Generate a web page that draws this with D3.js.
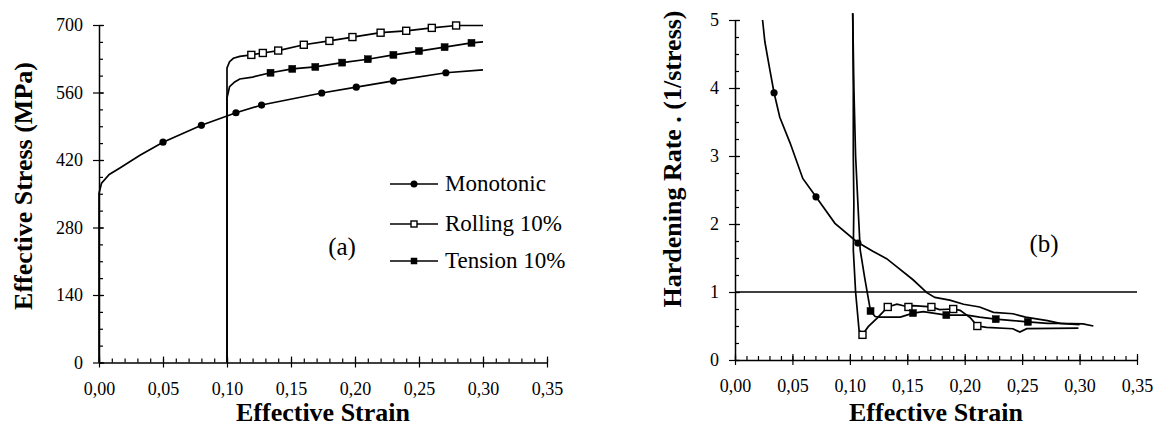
<!DOCTYPE html>
<html>
<head>
<meta charset="utf-8">
<script src="https://cdn.jsdelivr.net/npm/d3@7"></script>
<style>
  body { margin: 0; background: #fff; }
</style>
</head>
<body>
<div id="chart"></div>
<script>
// 数据：应力-应变 (a)
const stressMonotonic = [[0,0],[0,351],[0.002,372],[0.008,390],[0.016,403],[0.032,430],[0.05,457],[0.08,492],[0.107,518],[0.127,534],[0.174,559],[0.201,571],[0.23,584],[0.271,601],[0.30,607]];
const stressMonotonicMarks = [[0.05,457],[0.08,492],[0.107,518],[0.127,534],[0.174,559],[0.201,571],[0.23,584],[0.271,601]];
const stressRolling = [[0.10,0],[0.10,611],[0.102,624],[0.105,631],[0.11,635],[0.119,638],[0.128,642],[0.14,647],[0.16,659],[0.18,667],[0.198,675],[0.22,684],[0.24,688],[0.26,694],[0.279,699],[0.30,699]];
const stressRollingMarks = [[0.119,638],[0.128,642],[0.14,647],[0.16,659],[0.18,667],[0.198,675],[0.22,684],[0.24,688],[0.26,694],[0.279,699]];
const stressTension = [[0.10,0],[0.10,549],[0.102,572],[0.106,582],[0.11,588],[0.12,592],[0.134,601],[0.151,609],[0.169,613],[0.19,622],[0.21,629],[0.23,638],[0.25,646],[0.27,654],[0.291,663],[0.30,665]];
const stressTensionMarks = [[0.134,601],[0.151,609],[0.169,613],[0.19,622],[0.21,629],[0.23,638],[0.25,646],[0.27,654],[0.291,663]];

// 数据：硬化率 (b)
const rateMonotonic = [[0.024,5.0],[0.026,4.68],[0.030,4.3],[0.034,3.93],[0.039,3.57],[0.048,3.19],[0.059,2.67],[0.0705,2.40],[0.087,2.01],[0.106,1.74],[0.12,1.6],[0.132,1.49],[0.141,1.37],[0.155,1.18],[0.167,0.99],[0.174,0.92],[0.187,0.88],[0.199,0.82],[0.213,0.78],[0.225,0.70],[0.242,0.68],[0.253,0.63],[0.272,0.58],[0.283,0.54],[0.303,0.53],[0.312,0.50]];
const rateMonotonicMarks = [[0.034,3.93],[0.0705,2.40],[0.107,1.72]];
const rateRolling = [[0.1025,5.1],[0.103,4],[0.103,3],[0.1035,2.3],[0.103,1.62],[0.105,1.0],[0.108,0.44],[0.111,0.37],[0.116,0.49],[0.124,0.62],[0.133,0.78],[0.141,0.82],[0.151,0.78],[0.155,0.80],[0.171,0.78],[0.178,0.74],[0.19,0.75],[0.196,0.73],[0.205,0.62],[0.211,0.50],[0.219,0.48],[0.242,0.46],[0.248,0.41],[0.254,0.46],[0.299,0.47]];
const rateRollingMarks = [[0.111,0.37],[0.133,0.78],[0.151,0.78],[0.171,0.78],[0.19,0.75],[0.211,0.50]];
const rateTension = [[0.1025,5.1],[0.1035,4],[0.105,3],[0.107,2.3],[0.109,1.62],[0.113,1.2],[0.118,0.72],[0.122,0.64],[0.126,0.63],[0.144,0.63],[0.155,0.69],[0.164,0.71],[0.184,0.66],[0.202,0.66],[0.213,0.63],[0.227,0.60],[0.242,0.58],[0.255,0.56],[0.272,0.54],[0.283,0.54],[0.30,0.52]];
const rateTensionMarks = [[0.118,0.72],[0.155,0.69],[0.184,0.66],[0.227,0.60],[0.255,0.56]];
const rateReference = [[0,1],[0.35,1]];

// 刻度
const strainTicks = [0,0.05,0.10,0.15,0.20,0.25,0.30,0.35];
const strainMinor = d3.range(0, 0.351, 0.01);
const stressTicks = [0,140,280,420,560,700];
const stressMinor = d3.range(0, 701, 35);
const rateTicks = [0,1,2,3,4,5];
const rateMinor = d3.range(0, 5.01, 0.25);
const legendNames = ['Monotonic', 'Rolling 10%', 'Tension 10%'];

const FONT = 'Liberation Serif';

const svg = d3.select('#chart').append('svg')
    .attr('width', 1154)
    .attr('height', 426)
    .attr('font-family', FONT);

const fmtStrain = d => d.toFixed(2).replace('.', ',');

// 统一文字样式
function styleText(sel, size, bold) {
    return sel.attr('font-family', FONT)
        .attr('font-size', size)
        .attr('font-weight', bold ? 'bold' : 'normal')
        .attr('fill', '#000');
}

// 绘制一个面板
function drawPanel(opt) {
    const g = svg.append('g');
    const x = d3.scaleLinear().domain([0, 0.35]).range(opt.xRange);
    const y = d3.scaleLinear().domain(opt.yDomain).range(opt.yRange);
    const y0 = opt.yRange[0];
    const x0 = opt.xRange[0];

    // 次刻度
    g.append('g')
        .attr('transform', `translate(0,${y0})`)
        .call(d3.axisTop(x).tickValues(strainMinor).tickSize(4).tickFormat(''))
        .call(s => s.select('.domain').remove());
    g.append('g')
        .attr('transform', `translate(${x0},0)`)
        .call(d3.axisRight(y).tickValues(opt.yMinor).tickSize(4).tickFormat(''))
        .call(s => s.select('.domain').remove());

    // 主坐标轴
    const xa = g.append('g')
        .attr('transform', `translate(0,${y0})`)
        .call(d3.axisBottom(x).tickValues(strainTicks).tickFormat(fmtStrain).tickSizeOuter(0));
    xa.selectAll('.tick line').attr('y1', -6).attr('y2', 5);
    styleText(xa.selectAll('.tick text').attr('y', 32).attr('dy', 0), 18);

    const ya = g.append('g')
        .attr('transform', `translate(${x0},0)`)
        .call(d3.axisLeft(y).tickValues(opt.yTicks).tickFormat(d3.format('d')).tickSizeOuter(0));
    ya.selectAll('.tick line').attr('x1', -6).attr('x2', 5);
    styleText(ya.selectAll('.tick text').attr('x', -16).attr('dy', '0.33em'), 18);

    g.selectAll('g').attr('font-family', FONT);
    g.selectAll('.domain').attr('stroke-width', 1.5);
    g.selectAll('.tick line').attr('stroke-width', 1.2);

    const line = d3.line().x(d => x(d[0])).y(d => y(d[1]));

    opt.series.forEach(s => {
        g.append('path')
            .attr('d', line(s.pts))
            .attr('fill', 'none')
            .attr('stroke', '#000')
            .attr('stroke-width', s.width || 1.7);
    });

    opt.series.forEach(s => {
        if (!s.marks) return;
        drawMarks(g, s.marks.map(d => [x(d[0]), y(d[1])]), s.kind);
    });

    // 轴标题
    styleText(g.append('text'), 26, true)
        .attr('x', (opt.xRange[0] + opt.xRange[1]) / 2)
        .attr('y', 421)
        .attr('text-anchor', 'middle')
        .text('Effective Strain');

    styleText(g.append('text'), 26, true)
        .attr('transform', `translate(${opt.yTitleX},${opt.yTitleY}) rotate(-90)`)
        .attr('text-anchor', 'middle')
        .text(opt.yTitle);

    styleText(g.append('text'), 25)
        .attr('x', opt.tag[0])
        .attr('y', opt.tag[1])
        .attr('text-anchor', 'middle')
        .text(opt.tag[2]);
    return g;
}

function drawMarks(g, pts, kind, size) {
    if (kind === 'circle') {
        g.selectAll(null).data(pts).enter().append('circle')
            .attr('cx', d => d[0]).attr('cy', d => d[1])
            .attr('r', size ? size / 2 : 3.6)
            .attr('fill', '#000');
    } else {
        const s = size || 7;
        g.selectAll(null).data(pts).enter().append('rect')
            .attr('x', d => d[0] - s / 2).attr('y', d => d[1] - s / 2)
            .attr('width', s).attr('height', s)
            .attr('fill', kind === 'open' ? '#fff' : '#000')
            .attr('stroke', '#000')
            .attr('stroke-width', kind === 'open' ? 1.4 : 0.5);
    }
}

// (a) 有效应力
drawPanel({
    xRange: [99, 547],
    yDomain: [0, 700],
    yRange: [362.5, 25],
    yTicks: stressTicks,
    yMinor: stressMinor,
    yTitle: 'Effective Stress (MPa)',
    yTitleX: 32,
    yTitleY: 186,
    tag: [342, 255, '(a)'],
    series: [
        { pts: stressMonotonic, marks: stressMonotonicMarks, kind: 'circle' },
        { pts: stressRolling, marks: stressRollingMarks, kind: 'open' },
        { pts: stressTension, marks: stressTensionMarks, kind: 'filled' }
    ]
});

// (b) 硬化率
drawPanel({
    xRange: [735, 1137],
    yDomain: [0, 5],
    yRange: [360, 20],
    yTicks: rateTicks,
    yMinor: rateMinor,
    yTitle: 'Hardening Rate . (1/stress)',
    yTitleX: 681,
    yTitleY: 159,
    tag: [1044, 252, '(b)'],
    series: [
        { pts: rateReference, width: 1.6 },
        { pts: rateMonotonic, marks: rateMonotonicMarks, kind: 'circle' },
        { pts: rateRolling, marks: rateRollingMarks, kind: 'open' },
        { pts: rateTension, marks: rateTensionMarks, kind: 'filled' }
    ]
});

// 图例
const legend = svg.append('g');
const legendY = [184, 224, 261];
const legendKinds = ['circle', 'open', 'filled'];
legendNames.forEach((name, i) => {
    legend.append('line')
        .attr('x1', 390).attr('x2', 438)
        .attr('y1', legendY[i]).attr('y2', legendY[i])
        .attr('stroke', '#000').attr('stroke-width', 1.7);
    drawMarks(legend, [[414, legendY[i]]], legendKinds[i], i === 0 ? 7 : 6);
    styleText(legend.append('text'), 23)
        .attr('x', 445)
        .attr('y', legendY[i] + 7)
        .text(name);
});
</script>
</body>
</html>
